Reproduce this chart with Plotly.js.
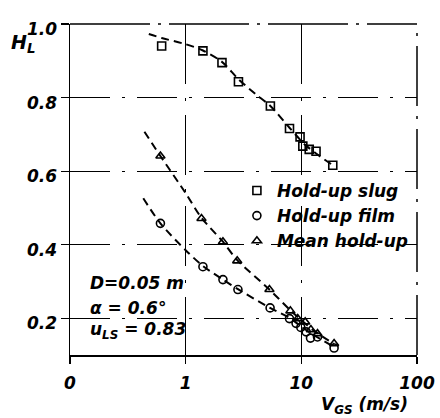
<!DOCTYPE html>
<html>
<head>
<meta charset="utf-8">
<script src="https://cdn.plot.ly/plotly-3.0.1.min.js"></script>
<style>html,body{margin:0;padding:0;background:#fff;}#chart{width:440px;height:418px;}</style>
</head>
<body>
<div id="chart"></div>
<script>
// Hold-up slug (squares)
var slugX = [0.62, 1.41, 2.06, 2.86, 5.4, 7.9, 9.75, 10.3, 11.7, 13.4, 18.7];
var slugY = [0.94, 0.927, 0.895, 0.843, 0.777, 0.716, 0.693, 0.668, 0.659, 0.654, 0.616];
// Hold-up film (circles)
var filmX = [0.605, 1.41, 2.1, 2.83, 5.37, 7.9, 9.0, 9.9, 11.0, 12.0, 13.8, 19.2];
var filmY = [0.458, 0.34, 0.305, 0.278, 0.228, 0.199, 0.186, 0.175, 0.163, 0.146, 0.149, 0.119];
// Mean hold-up (triangles)
var meanX = [0.605, 1.37, 2.1, 2.79, 5.3, 8.04, 9.3, 10.8, 12.1, 13.8, 19.2];
var meanY = [0.641, 0.471, 0.408, 0.356, 0.278, 0.22, 0.199, 0.19, 0.169, 0.158, 0.131];
// Dashed fitted curves
var slugCurveX = [0.48, 0.62, 1.0, 1.41, 2.06, 2.86, 4.0, 5.4, 7.9, 10.5, 13.4, 18.7];
var slugCurveY = [0.973, 0.962, 0.945, 0.928, 0.897, 0.85, 0.81, 0.777, 0.718, 0.675, 0.648, 0.616];
var filmCurveX = [0.43, 0.605, 1.0, 1.41, 2.1, 2.83, 5.37, 8.0, 10.0, 13.0, 19.2];
var filmCurveY = [0.526, 0.458, 0.385, 0.342, 0.305, 0.279, 0.228, 0.2, 0.177, 0.153, 0.122];
var meanCurveX = [0.44, 0.605, 1.0, 1.37, 2.1, 2.79, 5.3, 8.0, 10.0, 13.0, 19.2];
var meanCurveY = [0.707, 0.641, 0.54, 0.473, 0.408, 0.358, 0.278, 0.222, 0.195, 0.165, 0.13];
// Axis ticks
var xTickVals = [0.1, 1, 10, 100];
var xTickText = ["0", "1", "10", "100"];
var yTickVals = [0.2, 0.4, 0.6, 0.8, 1.0];
var yTickText = ["0.2", "0.4", "0.6", "0.8", "1.0"];

var FONT = "DejaVu Sans";
var f = function(sz){ return {family: FONT, size: sz, color: "#000", weight: "bold", style: "italic"}; };

function curve(x, y){
  return {x: x, y: y, mode: "lines", type: "scatter", showlegend: false, hoverinfo: "skip",
          line: {color: "#000", width: 2, dash: "8px,5px", shape: "spline", smoothing: 0.8}};
}
function pts(x, y, sym, name){
  return {x: x, y: y, mode: "markers", type: "scatter", name: name,
          marker: {symbol: sym, size: 8, color: "#000", line: {color: "#000", width: 1.6}}};
}

var data = [
  curve(slugCurveX, slugCurveY),
  curve(filmCurveX, filmCurveY),
  curve(meanCurveX, meanCurveY),
  pts(slugX, slugY, "square-open", "Hold-up slug"),
  pts(filmX, filmY, "circle-open", "Hold-up film"),
  pts(meanX, meanY, "triangle-up-open", "Mean hold-up")
];

var layout = {
  width: 440, height: 418,
  margin: {l: 70, r: 23, t: 24, b: 63},
  paper_bgcolor: "#fff", plot_bgcolor: "#fff",
  showlegend: true,
  legend: {x: 0.481, y: 0.55, xanchor: "left", yanchor: "top", bgcolor: "rgba(0,0,0,0)",
           borderwidth: 0, font: f(17), itemwidth: 30, tracegroupgap: 0},
  xaxis: {type: "log", range: [-1, 2], tickmode: "array", tickvals: xTickVals, ticktext: xTickText,
          showline: true, linecolor: "#000", linewidth: 1.5, ticks: "outside", ticklen: 7,
          tickcolor: "#000", tickwidth: 1.5, tickfont: f(17), ticklabelstandoff: 5,
          showgrid: true, gridcolor: "#000", gridwidth: 1, griddash: "60px,14px,3px,14px",
          zeroline: false, fixedrange: true},
  yaxis: {range: [0.1, 1.0], tickmode: "array", tickvals: yTickVals, ticktext: yTickText,
          showline: true, linecolor: "#000", linewidth: 1.5, ticks: "outside", ticklen: 8,
          tickcolor: "#000", tickwidth: 1.2, tickfont: f(17), ticklabelshift: 5,
          showgrid: true, gridcolor: "#000", gridwidth: 1, griddash: "40px,12px,3px,12px",
          zeroline: false, fixedrange: true},
  shapes: [
    {type: "line", xref: "paper", yref: "paper", x0: 0, x1: 1, y0: 1, y1: 1,
     line: {color: "#000", width: 1.5, dash: "80px,8px,3px,8px"}},
    {type: "line", xref: "paper", yref: "paper", x0: 1, x1: 1, y0: 0, y1: 1,
     line: {color: "#000", width: 1.5, dash: "60px,10px,3px,10px"}}
  ],
  annotations: [
    {xref: "paper", yref: "paper", x: -0.175, y: 0.94, xanchor: "left", yanchor: "middle",
     text: "H<sub>L</sub>", showarrow: false, font: f(19)},
    {xref: "paper", yref: "paper", x: 0.718, y: -0.152, xanchor: "left", yanchor: "middle",
     text: "V<sub>GS</sub> (m/s)", showarrow: false, font: f(17)},
    {xref: "paper", yref: "paper", x: 0.052, y: 0.2175, xanchor: "left", yanchor: "middle",
     text: "D=0.05 m", showarrow: false, font: f(17)},
    {xref: "paper", yref: "paper", x: 0.052, y: 0.142, xanchor: "left", yanchor: "middle",
     text: "α = 0.6°", showarrow: false, font: f(17)},
    {xref: "paper", yref: "paper", x: 0.052, y: 0.0755, xanchor: "left", yanchor: "middle",
     text: "u<sub>LS</sub> = 0.83", showarrow: false, font: f(17)}
  ]
};

Plotly.newPlot("chart", data, layout, {displayModeBar: false, staticPlot: true});
</script>
</body>
</html>
